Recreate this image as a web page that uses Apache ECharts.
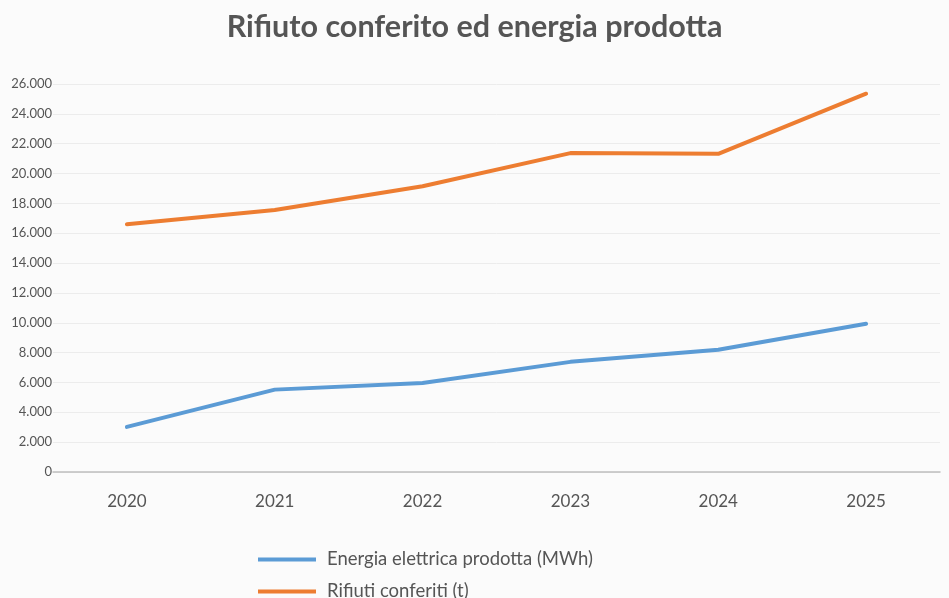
<!DOCTYPE html>
<html>
<head>
<meta charset="utf-8">
<script src="https://cdn.jsdelivr.net/npm/echarts@6/dist/echarts.min.js"></script>
<style>
  html, body { margin: 0; padding: 0; background: #fbfbfb; }
  #chart { width: 949px; height: 598px; }
</style>
</head>
<body>
<div id="chart"></div>
<script>
// Data
const years = ['2020', '2021', '2022', '2023', '2024', '2025'];
const energia = [3020, 5520, 5970, 7380, 8190, 9930];
const rifiuti = [16600, 17560, 19150, 21370, 21320, 25350];
const seriesNames = ['Energia elettrica prodotta (MWh)', 'Rifiuti conferiti (t)'];
const colors = ['#5b9bd5', '#ed7d31'];

const textColor = '#555555';
const fmt = v => v === 0 ? '0' : v.toLocaleString('it-IT');

// one legend per entry, stacked vertically like the reference
const legendFor = (name, top) => ({
    left: 253,
    top: top,
    icon: 'rect',
    itemWidth: 58,
    itemHeight: 4,
    textStyle: { fontSize: 18.5, color: textColor, fontFamily: 'Lato', padding: [0, 0, 0, 6] },
    data: [name]
});

const chart = echarts.init(document.getElementById('chart'));
chart.setOption({
    backgroundColor: '#fbfbfb',
    animation: false,
    textStyle: { fontFamily: 'Lato' },
    title: {
        text: 'Rifiuto conferito ed energia prodotta',
        left: 'center',
        top: 7,
        textStyle: { fontFamily: 'Lato', fontSize: 30.5, fontWeight: 'bold', color: textColor }
    },
    legend: [legendFor(seriesNames[0], 545), legendFor(seriesNames[1], 577)],
    grid: { left: 53, right: 9, top: 84, bottom: 126, containLabel: false },
    xAxis: {
        type: 'category',
        data: years,
        axisLine: { lineStyle: { color: '#bfbfbf', width: 1.5 } },
        axisTick: { show: false },
        axisLabel: { color: textColor, fontSize: 17, margin: 21 }
    },
    yAxis: {
        type: 'value',
        min: 0,
        max: 26000,
        interval: 2000,
        axisLine: { show: false },
        axisTick: { show: false },
        splitLine: { lineStyle: { color: '#ececec', width: 1 } },
        axisLabel: { color: textColor, fontSize: 13, margin: 1, formatter: fmt }
    },
    series: [
        {
            name: seriesNames[0],
            type: 'line',
            data: energia,
            symbol: 'none',
            lineStyle: { color: colors[0], width: 4, cap: 'round', join: 'round' },
            itemStyle: { color: colors[0] }
        },
        {
            name: seriesNames[1],
            type: 'line',
            data: rifiuti,
            symbol: 'none',
            lineStyle: { color: colors[1], width: 4, cap: 'round', join: 'round' },
            itemStyle: { color: colors[1] }
        }
    ]
});
</script>
</body>
</html>
